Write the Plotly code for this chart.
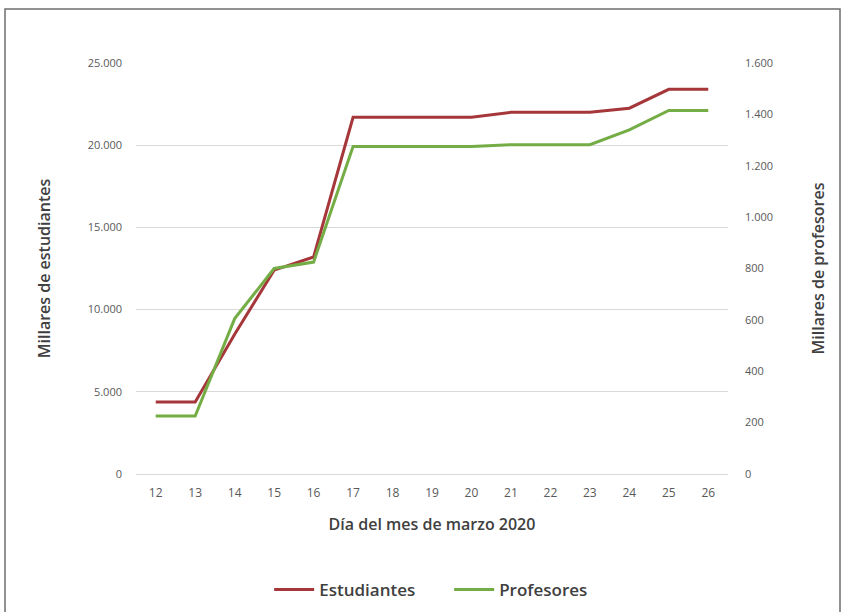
import plotly.graph_objects as go

# Días de marzo de 2020
dias = [12, 13, 14, 15, 16, 17, 18, 19, 20, 21, 22, 23, 24, 25, 26]
# Miles de estudiantes (eje izquierdo)
estudiantes = [4380, 4380, 8500, 12400, 13200, 21700, 21700, 21700, 21700,
               22000, 22000, 22000, 22250, 23400, 23400]
# Miles de profesores (eje derecho)
profesores = [226, 226, 605, 800, 825, 1275, 1275, 1275, 1275,
              1282, 1282, 1282, 1340, 1415, 1415]

ROJO = "#A5373B"
VERDE = "#74AD45"
GRIS_TXT = "#595959"
GRIS_TIT = "#404040"
FUENTE = "Open Sans, Roboto, sans-serif"

fig = go.Figure()
fig.add_trace(go.Scatter(
    x=dias, y=estudiantes, name="Estudiantes", mode="lines",
    line=dict(color=ROJO, width=3), yaxis="y"))
fig.add_trace(go.Scatter(
    x=dias, y=profesores, name="Profesores", mode="lines",
    line=dict(color=VERDE, width=3), yaxis="y2"))

titulo = dict(size=16, color=GRIS_TIT, family=FUENTE, weight=600)

fig.update_layout(
    width=843, height=612,
    margin=dict(l=136, r=115, t=63, b=138, autoexpand=False),
    paper_bgcolor="white", plot_bgcolor="white",
    separators=",.",
    font=dict(family=FUENTE, color=GRIS_TXT),
    showlegend=True,
    legend=dict(orientation="h", x=0.529, xanchor="center",
                yref="container", y=1 - 590 / 612, yanchor="middle",
                font=dict(size=17, color=GRIS_TIT, family=FUENTE, weight=600),
                itemwidth=40, entrywidth=125, entrywidthmode="pixels",
                traceorder="normal"),
    xaxis=dict(
        range=[11.5, 26.5], tickmode="array", tickvals=dias,
        ticktext=[str(d) for d in dias],
        showgrid=False, zeroline=False, showline=False, automargin=False,
        tickfont=dict(size=12, color=GRIS_TXT),
        ticklabelstandoff=10,
        title=dict(text="Día del mes de marzo 2020", standoff=18, font=titulo),
    ),
    yaxis=dict(
        range=[0, 25000], dtick=5000, tickformat=",d",
        showgrid=True, gridcolor="#D9D9D9", gridwidth=1,
        zeroline=True, zerolinecolor="#D9D9D9", zerolinewidth=1,
        showline=False, automargin=False,
        tickfont=dict(size=11, color=GRIS_TXT),
        ticklabelstandoff=13,
        title=dict(text="Millares de estudiantes", standoff=33, font=titulo),
    ),
    yaxis2=dict(
        range=[0, 1600], dtick=200, tickformat=",d",
        overlaying="y", side="right",
        showgrid=False, zeroline=False, showline=False, automargin=False,
        tickfont=dict(size=11, color=GRIS_TXT),
        ticklabelstandoff=16,
        title=dict(text="Millares de profesores", standoff=40, font=titulo),
    ),
    shapes=[dict(type="rect", xref="paper", yref="paper",
                 x0=(5 - 136) / 592, x1=(840 - 136) / 592,
                 y0=-160 / 411, y1=1 + 54 / 411,
                 line=dict(color="#6E6E6E", width=1.5), fillcolor="rgba(0,0,0,0)",
                 layer="below")],
)

fig.write_html("out.html")
